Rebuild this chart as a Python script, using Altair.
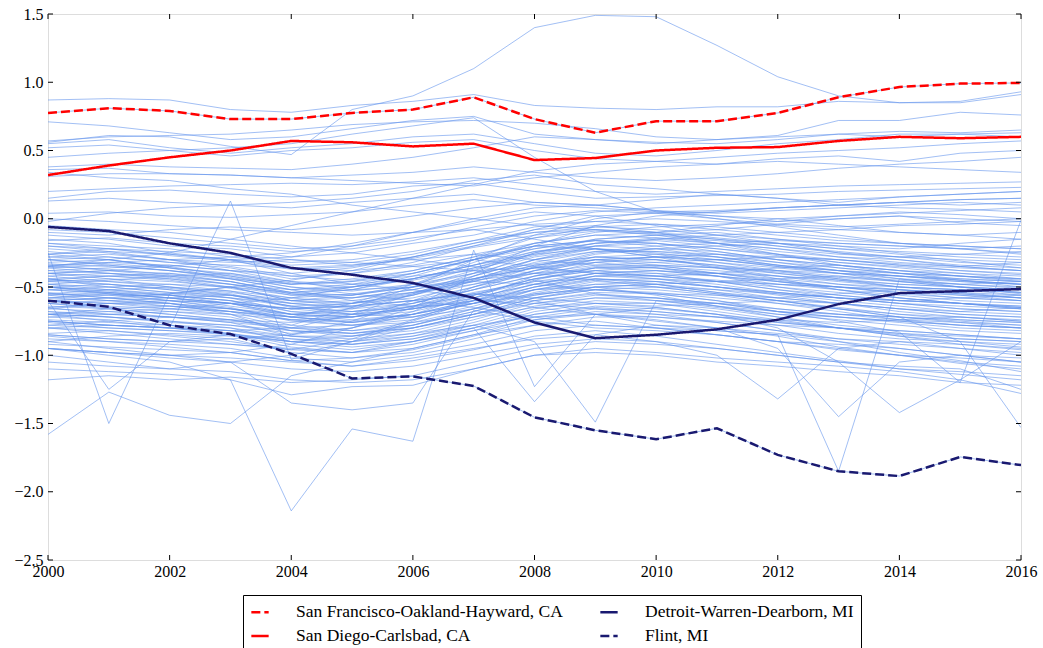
import altair as alt
import pandas as pd

years = list(range(2000, 2017))
x_ticks = [2000, 2002, 2004, 2006, 2008, 2010, 2012, 2014, 2016]
y_ticks = [-2.5, -2.0, -1.5, -1.0, -0.5, 0.0, 0.5, 1.0, 1.5]

# Highlighted metro areas
san_francisco = [0.775, 0.81, 0.79, 0.73, 0.73, 0.775, 0.80, 0.89, 0.73, 0.63, 0.715, 0.715, 0.775, 0.89, 0.965, 0.99, 0.995]
san_diego = [0.32, 0.39, 0.45, 0.50, 0.57, 0.56, 0.53, 0.55, 0.43, 0.445, 0.50, 0.52, 0.525, 0.57, 0.60, 0.59, 0.60]
detroit = [-0.06, -0.09, -0.18, -0.25, -0.36, -0.41, -0.47, -0.58, -0.76, -0.875, -0.85, -0.81, -0.74, -0.625, -0.545, -0.53, -0.515]
flint = [-0.60, -0.645, -0.78, -0.845, -0.99, -1.17, -1.155, -1.225, -1.455, -1.55, -1.615, -1.535, -1.73, -1.85, -1.885, -1.745, -1.805]

# order chosen so the 2-column legend reads: row 1 SF | Detroit, row 2 San Diego | Flint
cities = ["San Francisco-Oakland-Hayward, CA", "San Diego-Carlsbad, CA",
          "Detroit-Warren-Dearborn, MI", "Flint, MI"]
city_values = [san_francisco, san_diego, detroit, flint]
city_colors = ["#ff0000", "#ff0000", "#191970", "#191970"]
city_dashes = [[9, 4], [1, 0], [1, 0], [9, 4]]

# Other metro areas
upper_lines = [
    [0.87, 0.88, 0.87, 0.80, 0.78, 0.83, 0.86, 0.91, 0.83, 0.81, 0.80, 0.82, 0.82, 0.86, 0.85, 0.85, 0.91],
    [0.56, 0.61, 0.60, 0.53, 0.47, 0.80, 0.90, 1.10, 1.40, 1.49, 1.48, 1.27, 1.04, 0.90, 0.85, 0.86, 0.93],
    [0.71, 0.68, 0.63, 0.58, 0.60, 0.66, 0.72, 0.75, 0.62, 0.58, 0.55, 0.58, 0.61, 0.72, 0.72, 0.78, 0.76],
    [0.57, 0.60, 0.61, 0.62, 0.65, 0.69, 0.71, 0.72, 0.70, 0.66, 0.60, 0.58, 0.60, 0.62, 0.64, 0.63, 0.65],
    [0.55, 0.58, 0.52, 0.48, 0.52, 0.55, 0.60, 0.62, 0.55, 0.48, 0.46, 0.50, 0.55, 0.58, 0.62, 0.62, 0.63],
    [0.52, 0.54, 0.50, 0.46, 0.50, 0.52, 0.56, 0.58, 0.50, 0.44, 0.42, 0.40, 0.44, 0.46, 0.42, 0.48, 0.50],
    [0.38, 0.40, 0.38, 0.37, 0.36, 0.40, 0.45, 0.52, 0.60, 0.58, 0.56, 0.55, 0.58, 0.62, 0.60, 0.62, 0.60],
    [0.36, 0.37, 0.33, 0.32, 0.30, 0.28, 0.26, 0.24, 0.30, 0.34, 0.38, 0.40, 0.42, 0.40, 0.38, 0.36, 0.34],
    [0.31, 0.33, 0.33, 0.32, 0.30, 0.32, 0.34, 0.38, 0.34, 0.30, 0.28, 0.30, 0.33, 0.37, 0.40, 0.42, 0.45],
    [0.20, 0.22, 0.24, 0.25, 0.26, 0.25, 0.27, 0.30, 0.25, 0.20, 0.18, 0.20, 0.22, 0.24, 0.25, 0.26, 0.27],
    [0.15, 0.20, 0.21, 0.18, 0.16, 0.18, 0.24, 0.26, 0.20, 0.15, 0.16, 0.17, 0.18, 0.20, 0.21, 0.22, 0.23],
    [0.13, 0.15, 0.12, 0.10, 0.08, 0.12, 0.15, 0.18, 0.12, 0.10, 0.14, 0.18, 0.15, 0.12, 0.16, 0.18, 0.20],
    [0.04, 0.05, 0.02, 0.01, 0.03, 0.05, 0.10, 0.14, 0.10, 0.08, 0.05, 0.06, 0.08, 0.10, 0.12, 0.14, 0.15],
    [-0.02, 0.04, 0.08, 0.10, 0.12, 0.15, 0.20, 0.28, 0.32, 0.25, 0.22, 0.18, 0.15, 0.10, 0.08, 0.07, 0.05],
    [0.34, 0.30, 0.28, 0.22, 0.18, 0.10, 0.05, 0.00, -0.05, -0.08, -0.10, -0.05, 0.00, 0.02, 0.05, 0.03, 0.00],
    [0.45, 0.48, 0.50, 0.52, 0.55, 0.62, 0.68, 0.74, 0.45, 0.20, 0.05, 0.02, -0.02, 0.00, 0.02, -0.03, -0.05],
    [-0.35, -0.30, -0.25, -0.15, -0.05, 0.05, 0.15, 0.25, 0.35, 0.40, 0.42, 0.45, 0.48, 0.50, 0.52, 0.55, 0.57],
]

middle_lines = [
    [-0.08, -0.10, -0.14, -0.18, -0.22, -0.20, -0.14, -0.08, -0.04, -0.02, 0.00, -0.02, -0.05, -0.08, -0.10, -0.12, -0.10],
    [-0.18, -0.20, -0.22, -0.28, -0.32, -0.30, -0.24, -0.16, -0.10, -0.06, -0.08, -0.12, -0.15, -0.18, -0.20, -0.22, -0.25],
    [-0.22, -0.25, -0.30, -0.35, -0.42, -0.45, -0.40, -0.30, -0.22, -0.15, -0.12, -0.15, -0.20, -0.25, -0.28, -0.30, -0.32],
    [-0.26, -0.22, -0.27, -0.31, -0.37, -0.35, -0.29, -0.21, -0.14, -0.09, -0.11, -0.15, -0.18, -0.22, -0.26, -0.31, -0.36],
    [-0.30, -0.33, -0.36, -0.41, -0.47, -0.50, -0.45, -0.37, -0.27, -0.20, -0.18, -0.22, -0.27, -0.32, -0.35, -0.38, -0.41],
    [-0.33, -0.35, -0.38, -0.43, -0.50, -0.53, -0.48, -0.40, -0.33, -0.28, -0.30, -0.35, -0.39, -0.43, -0.46, -0.48, -0.51],
    [-0.35, -0.37, -0.41, -0.46, -0.55, -0.58, -0.52, -0.42, -0.30, -0.22, -0.25, -0.30, -0.35, -0.40, -0.42, -0.45, -0.48],
    [-0.38, -0.40, -0.43, -0.48, -0.55, -0.56, -0.50, -0.38, -0.25, -0.18, -0.15, -0.18, -0.22, -0.28, -0.32, -0.35, -0.38],
    [-0.40, -0.42, -0.45, -0.51, -0.58, -0.62, -0.58, -0.48, -0.38, -0.32, -0.30, -0.34, -0.40, -0.45, -0.50, -0.52, -0.56],
    [-0.42, -0.40, -0.44, -0.50, -0.60, -0.64, -0.60, -0.50, -0.40, -0.30, -0.28, -0.30, -0.35, -0.38, -0.40, -0.42, -0.45],
    [-0.45, -0.46, -0.48, -0.53, -0.62, -0.66, -0.62, -0.52, -0.42, -0.35, -0.36, -0.40, -0.45, -0.50, -0.55, -0.58, -0.60],
    [-0.46, -0.48, -0.51, -0.55, -0.65, -0.68, -0.65, -0.55, -0.44, -0.38, -0.35, -0.38, -0.42, -0.46, -0.50, -0.52, -0.54],
    [-0.48, -0.50, -0.54, -0.58, -0.68, -0.72, -0.68, -0.58, -0.48, -0.40, -0.38, -0.42, -0.48, -0.52, -0.56, -0.60, -0.62],
    [-0.50, -0.53, -0.56, -0.60, -0.70, -0.74, -0.70, -0.60, -0.45, -0.36, -0.34, -0.36, -0.40, -0.44, -0.48, -0.50, -0.52],
    [-0.52, -0.55, -0.58, -0.62, -0.72, -0.76, -0.72, -0.62, -0.50, -0.42, -0.42, -0.46, -0.52, -0.56, -0.60, -0.62, -0.65],
    [-0.55, -0.56, -0.60, -0.65, -0.75, -0.78, -0.74, -0.64, -0.52, -0.45, -0.44, -0.48, -0.54, -0.58, -0.62, -0.66, -0.68],
    [-0.58, -0.60, -0.62, -0.68, -0.78, -0.82, -0.78, -0.68, -0.55, -0.48, -0.46, -0.50, -0.55, -0.60, -0.64, -0.68, -0.70],
    [-0.60, -0.62, -0.66, -0.70, -0.80, -0.84, -0.80, -0.70, -0.58, -0.52, -0.50, -0.55, -0.60, -0.65, -0.70, -0.72, -0.75],
    [-0.62, -0.65, -0.68, -0.72, -0.82, -0.86, -0.82, -0.72, -0.60, -0.54, -0.55, -0.60, -0.66, -0.70, -0.74, -0.76, -0.78],
    [-0.66, -0.68, -0.72, -0.76, -0.86, -0.90, -0.86, -0.76, -0.64, -0.58, -0.58, -0.62, -0.68, -0.72, -0.76, -0.80, -0.82],
    [-0.70, -0.72, -0.75, -0.80, -0.90, -0.94, -0.90, -0.80, -0.68, -0.62, -0.62, -0.66, -0.72, -0.78, -0.82, -0.85, -0.88],
    [-0.75, -0.78, -0.80, -0.85, -0.94, -0.98, -0.95, -0.85, -0.72, -0.66, -0.68, -0.72, -0.78, -0.84, -0.88, -0.90, -0.92],
    [-0.80, -0.82, -0.85, -0.88, -0.98, -1.02, -0.98, -0.88, -0.78, -0.72, -0.72, -0.76, -0.82, -0.88, -0.92, -0.95, -0.98],
    [-0.88, -0.90, -0.92, -0.95, -1.02, -1.05, -1.00, -0.92, -0.82, -0.78, -0.80, -0.85, -0.90, -0.96, -1.00, -1.02, -1.05],
    [-0.28, -0.26, -0.30, -0.32, -0.30, -0.34, -0.30, -0.26, -0.30, -0.34, -0.32, -0.30, -0.28, -0.30, -0.33, -0.35, -0.32],
    [-0.45, -0.42, -0.40, -0.44, -0.48, -0.46, -0.42, -0.38, -0.36, -0.40, -0.44, -0.46, -0.44, -0.42, -0.45, -0.48, -0.46],
    [-0.55, -0.52, -0.50, -0.53, -0.58, -0.55, -0.50, -0.46, -0.48, -0.52, -0.55, -0.56, -0.58, -0.55, -0.52, -0.55, -0.58],
    [-0.65, -0.62, -0.60, -0.62, -0.66, -0.64, -0.60, -0.55, -0.58, -0.62, -0.64, -0.62, -0.60, -0.62, -0.66, -0.68, -0.65],
    [-0.38, -0.36, -0.34, -0.38, -0.42, -0.40, -0.35, -0.30, -0.35, -0.40, -0.42, -0.40, -0.36, -0.34, -0.38, -0.40, -0.42],
    [-0.72, -0.70, -0.68, -0.70, -0.74, -0.72, -0.66, -0.60, -0.62, -0.66, -0.70, -0.72, -0.74, -0.76, -0.74, -0.72, -0.75],
]

middle_lines_b = [
    [-0.12, -0.15, -0.20, -0.22, -0.28, -0.25, -0.18, -0.12, -0.02, 0.05, 0.08, 0.10, 0.12, 0.14, 0.16, 0.18, 0.20],
    [-0.30, -0.28, -0.32, -0.36, -0.44, -0.40, -0.32, -0.20, -0.08, 0.02, 0.04, 0.05, 0.08, 0.10, 0.12, 0.10, 0.12],
    [-0.48, -0.45, -0.42, -0.48, -0.56, -0.52, -0.42, -0.30, -0.18, -0.12, -0.10, -0.08, -0.04, 0.00, 0.02, 0.00, -0.02],
    [-0.58, -0.55, -0.58, -0.64, -0.70, -0.66, -0.56, -0.42, -0.30, -0.24, -0.20, -0.18, -0.16, -0.18, -0.20, -0.22, -0.20],
    [-0.40, -0.44, -0.50, -0.56, -0.64, -0.70, -0.72, -0.66, -0.58, -0.50, -0.48, -0.52, -0.58, -0.62, -0.66, -0.70, -0.72],
    [-0.20, -0.24, -0.30, -0.38, -0.46, -0.52, -0.50, -0.44, -0.36, -0.30, -0.32, -0.36, -0.42, -0.48, -0.52, -0.56, -0.60],
    [-0.62, -0.60, -0.58, -0.56, -0.60, -0.58, -0.52, -0.44, -0.36, -0.32, -0.36, -0.42, -0.50, -0.56, -0.60, -0.62, -0.64],
    [-0.44, -0.50, -0.54, -0.56, -0.62, -0.60, -0.54, -0.46, -0.36, -0.26, -0.22, -0.24, -0.30, -0.36, -0.40, -0.44, -0.46],
    [-0.68, -0.72, -0.76, -0.78, -0.84, -0.80, -0.70, -0.56, -0.44, -0.38, -0.40, -0.46, -0.52, -0.58, -0.62, -0.64, -0.66],
    [-0.78, -0.75, -0.72, -0.74, -0.80, -0.82, -0.76, -0.66, -0.52, -0.44, -0.46, -0.50, -0.54, -0.58, -0.60, -0.58, -0.56],
    [-0.36, -0.40, -0.42, -0.40, -0.46, -0.48, -0.44, -0.36, -0.26, -0.18, -0.14, -0.16, -0.20, -0.24, -0.28, -0.32, -0.34],
    [-0.52, -0.50, -0.48, -0.50, -0.54, -0.50, -0.44, -0.34, -0.22, -0.16, -0.18, -0.24, -0.30, -0.34, -0.38, -0.42, -0.44],
    [-0.90, -0.86, -0.84, -0.86, -0.90, -0.86, -0.78, -0.68, -0.56, -0.50, -0.52, -0.56, -0.62, -0.66, -0.70, -0.74, -0.76],
    [-0.30, -0.34, -0.38, -0.44, -0.52, -0.60, -0.64, -0.62, -0.56, -0.50, -0.48, -0.46, -0.48, -0.50, -0.52, -0.54, -0.56],
    [-0.64, -0.66, -0.70, -0.74, -0.76, -0.72, -0.64, -0.54, -0.46, -0.44, -0.48, -0.54, -0.60, -0.66, -0.72, -0.76, -0.80],
    [-0.24, -0.28, -0.32, -0.34, -0.36, -0.38, -0.34, -0.26, -0.18, -0.12, -0.14, -0.18, -0.24, -0.28, -0.30, -0.34, -0.36],
    [-0.56, -0.60, -0.64, -0.68, -0.74, -0.78, -0.76, -0.70, -0.62, -0.58, -0.60, -0.64, -0.68, -0.70, -0.72, -0.74, -0.76],
    [-0.46, -0.44, -0.46, -0.50, -0.56, -0.58, -0.54, -0.48, -0.40, -0.34, -0.34, -0.36, -0.38, -0.40, -0.44, -0.46, -0.48],
    [-0.74, -0.76, -0.78, -0.82, -0.88, -0.90, -0.84, -0.74, -0.62, -0.56, -0.58, -0.64, -0.70, -0.74, -0.78, -0.82, -0.84],
    [-0.16, -0.14, -0.18, -0.20, -0.24, -0.22, -0.16, -0.06, 0.02, 0.06, 0.04, 0.00, -0.04, -0.06, -0.04, -0.02, 0.00],
    [-0.34, -0.32, -0.34, -0.38, -0.40, -0.36, -0.28, -0.18, -0.10, -0.08, -0.12, -0.18, -0.22, -0.26, -0.28, -0.26, -0.24],
    [-0.84, -0.82, -0.86, -0.90, -0.96, -0.98, -0.92, -0.82, -0.70, -0.64, -0.66, -0.70, -0.76, -0.80, -0.84, -0.88, -0.90],
    [-0.60, -0.64, -0.66, -0.68, -0.72, -0.70, -0.62, -0.50, -0.38, -0.30, -0.28, -0.30, -0.34, -0.38, -0.42, -0.46, -0.48],
    [-0.42, -0.46, -0.50, -0.54, -0.60, -0.56, -0.48, -0.36, -0.24, -0.20, -0.22, -0.28, -0.34, -0.40, -0.46, -0.50, -0.54],
    [-0.10, -0.12, -0.08, -0.06, -0.08, -0.04, 0.02, 0.08, 0.12, 0.10, 0.06, 0.04, 0.06, 0.08, 0.10, 0.12, 0.10],
    [-0.50, -0.48, -0.52, -0.56, -0.64, -0.68, -0.64, -0.56, -0.46, -0.40, -0.42, -0.46, -0.50, -0.54, -0.58, -0.62, -0.64],
    [-0.70, -0.66, -0.64, -0.66, -0.70, -0.68, -0.62, -0.52, -0.42, -0.36, -0.38, -0.42, -0.46, -0.50, -0.54, -0.56, -0.58],
    [-0.26, -0.30, -0.36, -0.40, -0.48, -0.46, -0.38, -0.28, -0.20, -0.16, -0.18, -0.22, -0.26, -0.30, -0.34, -0.38, -0.40],
]

middle_lines_c = [
    [-0.32, -0.30, -0.36, -0.44, -0.52, -0.48, -0.40, -0.30, -0.20, -0.16, -0.20, -0.26, -0.32, -0.38, -0.44, -0.48, -0.50],
    [-0.54, -0.58, -0.60, -0.62, -0.66, -0.62, -0.54, -0.44, -0.34, -0.30, -0.34, -0.40, -0.46, -0.52, -0.58, -0.62, -0.66],
    [-0.66, -0.62, -0.62, -0.66, -0.72, -0.76, -0.70, -0.62, -0.52, -0.50, -0.56, -0.64, -0.72, -0.80, -0.86, -0.92, -0.96],
    [-0.80, -0.78, -0.80, -0.84, -0.92, -0.96, -0.90, -0.82, -0.74, -0.70, -0.74, -0.80, -0.86, -0.94, -1.00, -1.06, -1.10],
    [-0.86, -0.90, -0.94, -0.98, -1.04, -1.08, -1.04, -0.96, -0.86, -0.82, -0.86, -0.92, -0.98, -1.04, -1.10, -1.14, -1.18],
    [-0.40, -0.38, -0.40, -0.46, -0.54, -0.52, -0.44, -0.34, -0.24, -0.18, -0.16, -0.20, -0.26, -0.32, -0.36, -0.40, -0.44],
    [-0.48, -0.52, -0.56, -0.62, -0.70, -0.72, -0.64, -0.52, -0.38, -0.28, -0.26, -0.28, -0.32, -0.36, -0.40, -0.42, -0.44],
    [-0.58, -0.56, -0.56, -0.60, -0.68, -0.70, -0.66, -0.58, -0.48, -0.42, -0.44, -0.50, -0.56, -0.62, -0.68, -0.72, -0.74],
    [-0.36, -0.34, -0.38, -0.42, -0.48, -0.44, -0.38, -0.28, -0.14, -0.06, -0.04, -0.06, -0.10, -0.14, -0.18, -0.20, -0.22],
    [-0.44, -0.48, -0.52, -0.58, -0.64, -0.62, -0.56, -0.46, -0.34, -0.28, -0.30, -0.34, -0.38, -0.42, -0.46, -0.50, -0.52],
    [-0.62, -0.66, -0.70, -0.74, -0.82, -0.84, -0.78, -0.66, -0.54, -0.46, -0.48, -0.54, -0.58, -0.62, -0.66, -0.70, -0.72],
    [-0.72, -0.74, -0.78, -0.80, -0.86, -0.86, -0.80, -0.70, -0.58, -0.52, -0.54, -0.58, -0.62, -0.68, -0.74, -0.78, -0.80],
    [-0.50, -0.54, -0.56, -0.60, -0.66, -0.64, -0.56, -0.44, -0.32, -0.24, -0.24, -0.26, -0.30, -0.34, -0.38, -0.42, -0.46],
    [-0.26, -0.24, -0.26, -0.30, -0.36, -0.34, -0.28, -0.20, -0.12, -0.08, -0.10, -0.14, -0.18, -0.22, -0.24, -0.26, -0.28],
    [-0.56, -0.54, -0.58, -0.62, -0.70, -0.72, -0.66, -0.56, -0.44, -0.36, -0.36, -0.40, -0.44, -0.48, -0.50, -0.52, -0.54],
    [-0.34, -0.38, -0.42, -0.46, -0.54, -0.56, -0.50, -0.40, -0.28, -0.22, -0.24, -0.28, -0.34, -0.38, -0.42, -0.44, -0.46],
    [-0.68, -0.70, -0.72, -0.76, -0.80, -0.78, -0.72, -0.62, -0.50, -0.42, -0.40, -0.42, -0.46, -0.50, -0.54, -0.58, -0.60],
    [-0.92, -0.94, -0.96, -0.98, -1.04, -1.02, -0.96, -0.86, -0.74, -0.68, -0.70, -0.76, -0.82, -0.90, -0.98, -1.04, -1.12],
    [-0.44, -0.42, -0.44, -0.48, -0.52, -0.50, -0.44, -0.34, -0.26, -0.22, -0.26, -0.32, -0.38, -0.44, -0.50, -0.54, -0.58],
    [-0.60, -0.58, -0.62, -0.66, -0.74, -0.76, -0.70, -0.60, -0.50, -0.44, -0.46, -0.50, -0.54, -0.58, -0.62, -0.66, -0.68],
    [-0.18, -0.22, -0.26, -0.30, -0.34, -0.32, -0.26, -0.16, -0.06, -0.02, -0.04, -0.08, -0.12, -0.16, -0.18, -0.20, -0.22],
    [-0.76, -0.80, -0.82, -0.84, -0.90, -0.92, -0.88, -0.78, -0.66, -0.60, -0.62, -0.68, -0.74, -0.80, -0.86, -0.90, -0.94],
]

rising_lines = [
    [-0.85, -0.88, -0.90, -0.88, -0.85, -0.75, -0.60, -0.45, -0.30, -0.20, -0.15, -0.12, -0.10, -0.08, -0.05, -0.04, -0.02],
    [-0.75, -0.78, -0.80, -0.82, -0.80, -0.70, -0.55, -0.40, -0.20, -0.05, 0.02, 0.05, 0.08, 0.10, 0.12, 0.14, 0.15],
    [-0.95, -0.98, -1.00, -0.98, -0.92, -0.80, -0.68, -0.50, -0.35, -0.25, -0.22, -0.20, -0.18, -0.20, -0.22, -0.18, -0.15],
    [-0.65, -0.70, -0.72, -0.75, -0.78, -0.65, -0.50, -0.30, -0.12, 0.00, 0.05, 0.02, 0.00, -0.05, -0.10, -0.12, -0.15],
    [-0.55, -0.58, -0.62, -0.70, -0.85, -0.80, -0.65, -0.42, -0.25, -0.15, -0.12, -0.10, -0.15, -0.20, -0.25, -0.28, -0.30],
    [-1.05, -1.08, -1.10, -1.05, -1.00, -0.90, -0.75, -0.60, -0.48, -0.40, -0.38, -0.40, -0.42, -0.45, -0.48, -0.50, -0.52],
    [-0.50, -0.55, -0.60, -0.66, -0.72, -0.62, -0.48, -0.32, -0.18, -0.10, -0.06, -0.04, -0.02, 0.02, 0.04, 0.06, 0.08],
    [-0.80, -0.84, -0.88, -0.92, -0.96, -0.88, -0.74, -0.58, -0.42, -0.32, -0.28, -0.26, -0.28, -0.30, -0.34, -0.36, -0.38],
]

declining_lines = [
    [-0.15, -0.18, -0.25, -0.30, -0.40, -0.48, -0.52, -0.58, -0.65, -0.70, -0.72, -0.75, -0.78, -0.80, -0.82, -0.85, -0.88],
    [-0.05, -0.08, -0.10, -0.15, -0.20, -0.25, -0.30, -0.35, -0.40, -0.45, -0.50, -0.52, -0.55, -0.58, -0.60, -0.62, -0.65],
    [-0.28, -0.30, -0.35, -0.42, -0.50, -0.55, -0.60, -0.65, -0.72, -0.78, -0.80, -0.82, -0.85, -0.90, -0.95, -1.00, -1.05],
    [-0.20, -0.22, -0.24, -0.26, -0.30, -0.32, -0.35, -0.38, -0.45, -0.55, -0.60, -0.65, -0.70, -0.72, -0.75, -0.78, -0.80],
    [0.00, -0.02, -0.05, -0.08, -0.10, -0.12, -0.10, -0.08, -0.15, -0.22, -0.28, -0.32, -0.36, -0.40, -0.42, -0.45, -0.48],
]

peaking_lines = [
    [-0.40, -0.38, -0.35, -0.30, -0.28, -0.20, -0.10, 0.00, 0.08, 0.10, 0.06, 0.00, -0.06, -0.12, -0.18, -0.22, -0.26],
    [-0.60, -0.58, -0.55, -0.50, -0.45, -0.38, -0.28, -0.18, -0.08, -0.05, -0.10, -0.18, -0.26, -0.34, -0.40, -0.45, -0.50],
    [-0.35, -0.32, -0.30, -0.28, -0.25, -0.18, -0.10, -0.02, 0.05, 0.02, -0.05, -0.12, -0.18, -0.25, -0.30, -0.35, -0.38],
    [-0.70, -0.68, -0.66, -0.62, -0.58, -0.50, -0.40, -0.30, -0.20, -0.22, -0.28, -0.36, -0.44, -0.52, -0.58, -0.62, -0.66],
]

lower_lines = [
    [-1.18, -1.15, -1.18, -1.16, -1.20, -1.18, -1.15, -1.05, -0.95, -0.90, -0.92, -0.95, -1.00, -1.05, -1.10, -1.12, -1.15],
    [-1.00, -1.05, -1.10, -1.12, -1.18, -1.20, -1.18, -1.10, -1.00, -0.98, -1.00, -1.05, -1.08, -1.12, -1.15, -1.20, -1.22],
    [-0.95, -0.98, -1.02, -1.05, -1.10, -1.12, -1.08, -1.00, -0.92, -0.88, -0.90, -0.95, -1.00, -1.05, -1.08, -1.10, -1.25],
    [-0.90, -0.95, -1.00, -1.05, -1.35, -1.40, -1.35, -0.67, -0.75, -0.80, -0.82, -0.85, -0.90, -0.92, -0.95, -1.00, -1.02],
    [-1.10, -1.12, -1.14, -1.18, -1.29, -1.23, -1.22, -1.10, -1.00, -0.95, -0.98, -1.02, -1.05, -1.08, -1.12, -1.18, -1.28],
]

spiky_lines = [
    [-0.95, -1.00, -1.05, -1.18, -2.14, -1.54, -1.63, -0.23, -1.23, -0.70, -0.65, -0.70, -0.75, -0.80, -0.85, -0.88, -0.90],
    [-0.25, -1.50, -0.55, -0.50, -0.60, -0.62, -0.55, -0.45, -0.40, -0.38, -0.42, -0.45, -0.48, -0.50, -0.52, -0.55, -0.58],
    [-0.70, -0.75, -0.80, 0.13, -1.03, -0.90, -0.80, -0.70, -0.60, -0.55, -0.58, -0.62, -0.66, -0.70, -0.72, -0.75, -0.78],
    [-1.58, -1.27, -1.44, -1.50, -1.15, -1.05, -0.95, -0.85, -0.78, -0.75, -0.80, -0.85, -0.90, -0.95, -1.00, -1.05, -1.08],
    [-0.60, -1.25, -0.90, -0.85, -0.88, -0.92, -0.88, -0.80, -0.70, -0.65, -0.68, -0.72, -0.76, -0.80, -0.84, -0.86, -0.88],
    [-0.75, -0.78, -0.80, -0.82, -0.86, -0.88, -0.84, -0.78, -0.90, -1.49, -0.60, -0.62, -0.68, -0.72, -0.75, -0.78, -0.80],
    [-0.85, -0.88, -0.90, -0.92, -0.95, -0.98, -0.90, -0.80, -1.34, -0.85, -0.78, -0.80, -0.84, -0.88, -0.90, -0.92, -0.95],
    [-0.50, -0.52, -0.55, -0.58, -0.62, -0.65, -0.60, -0.55, -0.60, -0.70, -0.78, -0.82, -0.85, -1.85, -0.44, -0.50, -0.55],
    [-0.95, -0.98, -1.00, -1.02, -1.05, -1.08, -1.02, -0.95, -0.88, -0.85, -0.90, -1.00, -1.32, -0.95, -0.90, -0.95, -1.00],
    [-0.78, -0.80, -0.82, -0.85, -0.90, -0.92, -0.86, -0.78, -0.72, -0.70, -0.75, -0.80, -0.95, -1.45, -1.05, -1.00, -1.05],
    [-0.70, -0.72, -0.75, -0.78, -0.82, -0.84, -0.80, -0.72, -0.65, -0.62, -0.65, -0.70, -0.80, -1.05, -1.42, -1.18, -0.90],
    [-0.60, -0.62, -0.64, -0.68, -0.72, -0.75, -0.70, -0.62, -0.55, -0.52, -0.55, -0.60, -0.68, -0.75, -0.83, -1.20, -0.01],
    [-0.52, -0.54, -0.58, -0.62, -0.66, -0.70, -0.66, -0.60, -0.52, -0.48, -0.50, -0.55, -0.60, -0.66, -0.72, -0.90, -1.53],
]

# ---- build tables ----
all_bg = (upper_lines + middle_lines + middle_lines_b + middle_lines_c + rising_lines
          + declining_lines + peaking_lines + lower_lines + spiky_lines + city_values)
bg_rows = []
for i, series in enumerate(all_bg):
    for yr, v in zip(years, series):
        bg_rows.append({"id": i, "year": yr, "value": v})
bg_df = pd.DataFrame(bg_rows)

hl_rows = []
for name, series in zip(cities, city_values):
    for yr, v in zip(years, series):
        hl_rows.append({"city": name, "year": yr, "value": v})
hl_df = pd.DataFrame(hl_rows)

W, H = 973, 546
FONT = "Liberation Serif"

x_scale = alt.Scale(domain=[2000, 2016], nice=False, zero=False)
y_scale = alt.Scale(domain=[-2.5, 1.5], nice=False, zero=False)

x_enc = alt.X("year:Q", scale=x_scale, title=None,
              axis=alt.Axis(values=x_ticks, format="d", labelPadding=3,
                            labelFont=FONT, labelFontSize=16, labelFontWeight="normal"))
y_enc = alt.Y("value:Q", scale=y_scale, title=None,
              axis=alt.Axis(values=y_ticks, format=".1f", labelPadding=5,
                            labelFont=FONT, labelFontSize=16, labelFontWeight="normal"))

bg = alt.Chart(bg_df).mark_line(color="#6495ED", strokeWidth=1, opacity=0.6, clip=True).encode(
    x=x_enc, y=y_enc, detail="id:N"
)

legend = alt.Legend(
    title=None, orient="none", legendX=195, legendY=581, columns=2,
    symbolType="stroke", symbolSize=300, symbolStrokeWidth=2.5,
    labelFont=FONT, labelFontSize=17.5, labelColor="black", labelOffset=26, labelLimit=0,
    columnPadding=32, rowPadding=5, padding=7,
    strokeColor="black", fillColor="white", cornerRadius=0,
)

hl = alt.Chart(hl_df).mark_line(strokeWidth=2.5, clip=True).encode(
    x=alt.X("year:Q", scale=x_scale),
    y=alt.Y("value:Q", scale=y_scale),
    color=alt.Color("city:N", scale=alt.Scale(domain=cities, range=city_colors), legend=legend, sort=cities),
    strokeDash=alt.StrokeDash("city:N", scale=alt.Scale(domain=cities, range=city_dashes), legend=legend, sort=cities),
)

xt_df = pd.DataFrame({"year": x_ticks})
yt_df = pd.DataFrame({"value": y_ticks})
tick_len = 5
x_ticks_bottom = alt.Chart(xt_df).mark_rule(color="black", strokeWidth=1).encode(
    x=alt.X("year:Q", scale=x_scale), y=alt.value(H), y2=alt.value(H - tick_len))
x_ticks_top = alt.Chart(xt_df).mark_rule(color="black", strokeWidth=1).encode(
    x=alt.X("year:Q", scale=x_scale), y=alt.value(0), y2=alt.value(tick_len))
y_ticks_left = alt.Chart(yt_df).mark_rule(color="black", strokeWidth=1).encode(
    y=alt.Y("value:Q", scale=y_scale), x=alt.value(0), x2=alt.value(tick_len))
y_ticks_right = alt.Chart(yt_df).mark_rule(color="black", strokeWidth=1).encode(
    y=alt.Y("value:Q", scale=y_scale), x=alt.value(W), x2=alt.value(W - tick_len))

chart = alt.layer(bg, hl, x_ticks_bottom, x_ticks_top, y_ticks_left, y_ticks_right).properties(
    width=W, height=H,
    autosize=alt.AutoSizeParams(type="none"),
    padding={"left": 48, "top": 14, "right": 22, "bottom": 88},
).configure_view(stroke="black", strokeWidth=1.2).configure(
    background="white", font=FONT
).configure_axis(
    grid=False, ticks=False, domain=False, labelFont=FONT, labelFontSize=16,
    labelColor="black", labelFlush=False,
)

chart.save("out.html", embed_options={"renderer": "svg", "actions": False})
